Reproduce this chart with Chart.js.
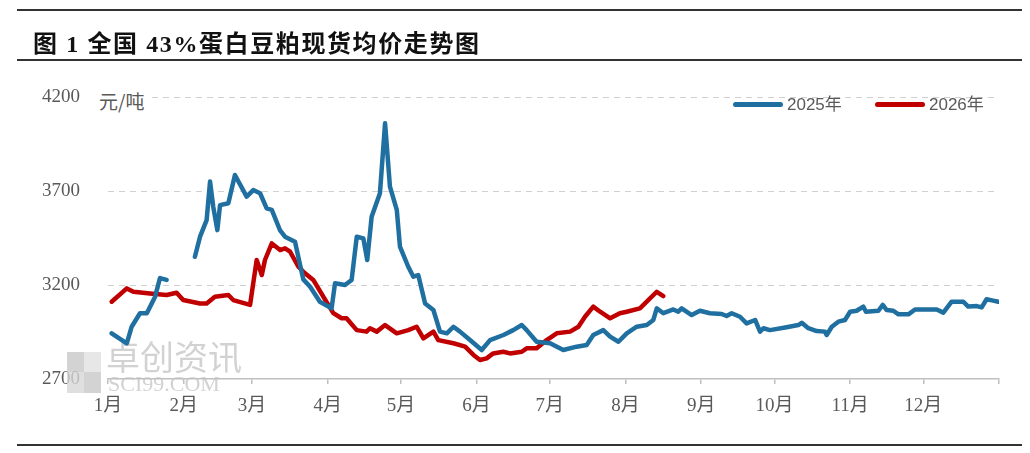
<!DOCTYPE html>
<html>
<head>
<meta charset="utf-8">
<script src="https://cdn.jsdelivr.net/npm/chart.js@4"></script>
<style>
    html, body { margin: 0; padding: 0; background: #fff; }
    #wrap { position: relative; width: 1030px; height: 453px; overflow: hidden; }
    #chart { position: absolute; left: 0; top: 0; }
    .rule { position: absolute; left: 17px; width: 1005px; height: 2px; background: #333; }
    #title {
        position: absolute; left: 33px; top: 24px;
        font: bold 24px "Liberation Serif", "Noto Sans CJK SC", serif;
        letter-spacing: 1.6px; color: #111; white-space: nowrap;
    }
    #unit {
        position: absolute; left: 99px; top: 87px; padding-right: 3px;
        font: 19px "Noto Sans CJK SC", sans-serif; color: #595959; background: #fff;
    }
    .leg { position: absolute; top: 90px; font: 17px "Liberation Sans", "Noto Sans CJK SC", sans-serif; color: #595959; white-space: nowrap; }
    .leg i { display: inline-block; width: 50px; height: 5px; border-radius: 3px; vertical-align: middle; margin-right: 4px; position: relative; top: -1px; }
</style>
</head>
<body>
<div id="wrap">
    <canvas id="chart" width="1030" height="453"></canvas>
    <div class="rule" style="top:9px"></div>
    <div id="title">图 1 全国 43%蛋白豆粕现货均价走势图</div>
    <div class="rule" style="top:59px"></div>
    <div class="rule" style="top:444px"></div>
    <div id="unit">元/吨</div>
    <div class="leg" style="left:733px"><i style="background:#1f6fa0"></i>2025年</div>
    <div class="leg" style="left:875px"><i style="background:#c00000"></i>2026年</div>
</div>
<script>
// ===== DATA (x = day of year, 0 = 1月1日) =====
const monthStarts = [0, 31, 59, 90, 120, 151, 181, 212, 243, 273, 304, 334];
const monthLabels = ['1月', '2月', '3月', '4月', '5月', '6月', '7月', '8月', '9月', '10月', '11月', '12月'];
const yTicks = [2700, 3200, 3700, 4200];

const days2025 = [1.5, 7.7, 9.7, 13.1, 15.9, 19.3, 21.3, 24.0, 30,
    35.6, 37.7, 40.4, 41.8, 43.1, 44.8, 45.9, 49.3, 52.0, 56.8, 59.5, 62.3, 65.0, 67.1, 70.5, 72.5, 76.6,
    80.0, 82.8, 86.8, 91.6, 93.0, 97.1, 99.8, 101.9, 104.6, 106.2, 108.0, 111.4, 113.5, 115.5, 118.3, 119.6,
    123.0, 125.1, 127.1, 129.9, 133.3, 136.0, 138.8, 141.5, 144.2, 148.3, 153.1, 156.5, 162.0, 166.0, 169.5,
    171.5, 175.6, 181.1, 186.5, 192.0, 196.1, 198.8, 202.9, 205.7, 209.1, 212.5, 216.6, 220.7, 223.4, 224.8,
    227.5, 231.6, 233.6, 235.0, 239.1, 242.5, 246.6, 251.4, 253.4, 255.5, 258.9, 261.6, 265.1, 267.1, 268.5,
    271.2, 278.0, 282.8, 284.2, 286.9, 290.3, 293.7, 294.4, 296.5, 299.2, 301.9, 304.0, 306.7, 309.4, 310.5,
    315.6, 317.4, 319.0, 321.7, 323.8, 327.9, 330.6, 339.5, 342.2, 345.6, 350.4, 352.4, 355.9, 357.9, 359.9,
    362.6, 364.7];
const price2025 = [2943, 2890, 2978, 3050, 3050, 3138, 3237, 3227, null,
    3350, 3457, 3545, 3750, 3617, 3492, 3625, 3635, 3785, 3670, 3705, 3688, 3608, 3600, 3490, 3457, 3430,
    3230, 3191, 3111, 3076, 3209, 3200, 3227, 3457, 3448, 3333, 3563, 3688, 4060, 3723, 3600, 3404,
    3297, 3244, 3253, 3102, 3067, 2952, 2943, 2978, 2952, 2907, 2854, 2907, 2934, 2960, 2987,
    2960, 2898, 2890, 2854, 2872, 2881, 2934, 2960, 2925, 2898, 2943, 2978, 2987, 3014, 3076,
    3050, 3070, 3058, 3076, 3040, 3063, 3050, 3046, 3035, 3050, 3031, 2996, 3014, 2952, 2970,
    2960, 2975, 2987, 2999, 2970, 2955, 2952, 2934, 2978, 3005, 3014, 3058, 3063, 3085, 3058,
    3063, 3094, 3067, 3063, 3044, 3044, 3070, 3070, 3053, 3111, 3111, 3085, 3088, 3081, 3124,
    3117, 3111];

const days2026 = [1.5, 7.7, 10.4, 17.2, 24.0, 28.1, 30.8, 37.7, 40.4, 43.8, 49.3, 51.3, 58.2, 60.9, 63.0,
    64.3, 67.1, 70.5, 72.5, 74.6, 78.0, 80.7, 84.1, 88.2, 92.3, 95.7, 97.7, 101.9, 105.9, 107.3, 110.1,
    113.5, 118.3, 123.0, 126.4, 129.2, 133.3, 135.3, 141.5, 146.3, 149.7, 152.4, 155.1, 157.8, 161.9, 164.7,
    169.5, 171.5, 175.6, 179.7, 183.8, 189.3, 192.7, 195.4, 198.8, 201.6, 205.7, 209.7, 212.5, 217.9, 220.7,
    224.8, 227.5];
const price2026 = [3111, 3182, 3164, 3155, 3147, 3159, 3120, 3102, 3102, 3138, 3147, 3120, 3094, 3333, 3253,
    3333, 3421, 3386, 3395, 3377, 3297, 3262, 3227, 3138, 3050, 3023, 3023, 2960, 2952, 2970, 2952,
    2987, 2943, 2960, 2978, 2916, 2952, 2907, 2890, 2872, 2828, 2801, 2810, 2836, 2845, 2836,
    2845, 2863, 2863, 2907, 2943, 2952, 2978, 3031, 3085, 3058, 3023, 3050, 3058, 3076, 3111,
    3164, 3141];

function toPoints(days, prices) {
    return days.map((d, i) => ({ x: d, y: prices[i] }));
}

// Watermark drawn under the lines
const watermark = {
    id: 'watermark',
    beforeDatasetsDraw(chart) {
        const c = chart.ctx;
        c.save();
        c.fillStyle = 'rgba(200,200,200,0.8)';
        c.fillRect(67, 352, 17, 20);
        c.fillRect(84, 372, 17, 21);
        c.fillStyle = 'rgba(215,215,215,0.8)';
        c.fillRect(67, 372, 17, 21);
        c.fillStyle = 'rgba(225,225,225,0.8)';
        c.fillRect(84, 352, 17, 20);
        c.fillStyle = 'rgba(195,195,195,0.75)';
        c.font = '34px "Noto Sans CJK SC"';
        c.textBaseline = 'top';
        c.fillText('卓创资讯', 106, 340);
        c.font = '22px "Liberation Serif"';
        c.fillText('SCI99.COM', 108, 374);
        c.restore();
    }
};

function createLineChart() {
    const ctx = document.getElementById('chart');
    new Chart(ctx, {
        type: 'line',
        data: {
            datasets: [
                {
                    label: '2025年',
                    data: toPoints(days2025, price2025),
                    borderColor: '#1f6fa0',
                    borderWidth: 4.5,
                    pointRadius: 0,
                    spanGaps: false,
                    borderJoinStyle: 'round',
                    borderCapStyle: 'round'
                },
                {
                    label: '2026年',
                    data: toPoints(days2026, price2026),
                    borderColor: '#c00000',
                    borderWidth: 4.5,
                    pointRadius: 0,
                    borderJoinStyle: 'round',
                    borderCapStyle: 'round'
                }
            ]
        },
        options: {
            responsive: false,
            animation: false,
            layout: { padding: { top: 97, right: 31, left: 0, bottom: 0 } },
            plugins: {
                legend: { display: false },
                tooltip: { enabled: false }
            },
            scales: {
                x: {
                    type: 'linear',
                    min: 0,
                    max: 365,
                    afterBuildTicks: scale => {
                        scale.ticks = monthStarts.concat([365]).map(v => ({ value: v }));
                    },
                    afterFit: scale => { scale.height = 74; },
                    ticks: {
                        autoSkip: false,
                        maxRotation: 0,
                        padding: 11,
                        color: '#595959',
                        font: { family: '"Liberation Serif", "Noto Sans CJK SC"', size: 19 },
                        callback: (v, i) => monthLabels[i] || ''
                    },
                    grid: { drawOnChartArea: false, drawTicks: true, tickLength: 5, color: '#bfbfbf', lineWidth: 1.5 },
                    border: { color: '#bfbfbf', width: 1.5 }
                },
                y: {
                    min: 2700,
                    max: 4200,
                    afterBuildTicks: scale => {
                        scale.ticks = yTicks.map(v => ({ value: v }));
                    },
                    afterFit: scale => { scale.width = 108; },
                    ticks: {
                        padding: 28,
                        color: '#595959',
                        font: { family: '"Liberation Serif"', size: 19 },
                        callback: v => String(v)
                    },
                    grid: {
                        drawTicks: false,
                        lineWidth: 1,
                        color: c => (c.tick && c.tick.value === 2700) ? 'rgba(0,0,0,0)' : '#d0d0d0'
                    },
                    border: { display: false, dash: [6, 5] }
                }
            }
        },
        plugins: [watermark]
    });
}

document.addEventListener('DOMContentLoaded', createLineChart);
</script>
</body>
</html>
